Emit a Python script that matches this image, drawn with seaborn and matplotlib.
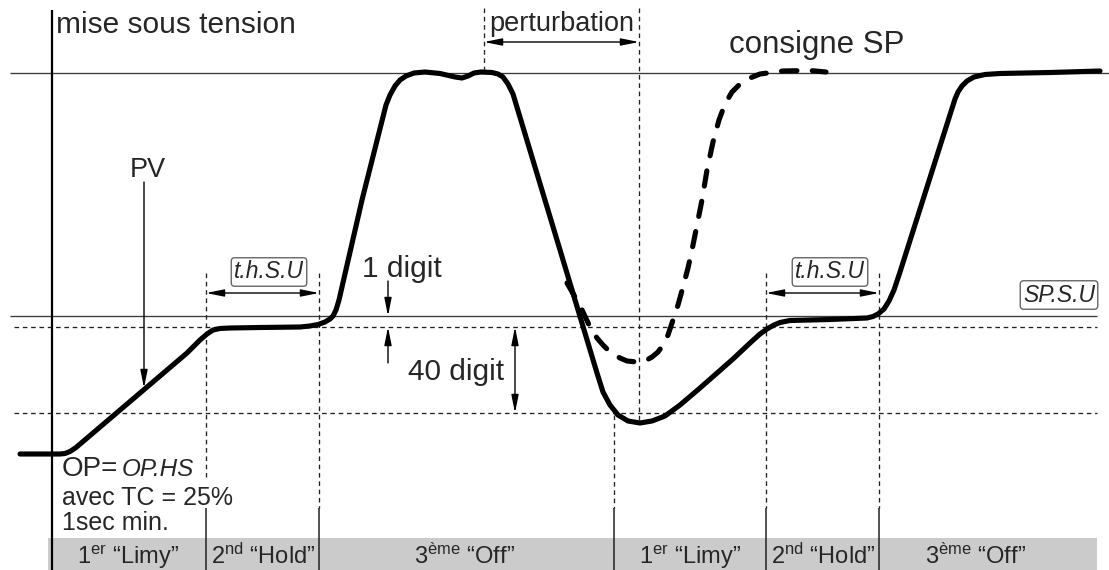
import pandas as pd
import seaborn as sns
import matplotlib.pyplot as plt

# ---- process variable (PV) trace: time vs. level (level axis points down) ----
pv_t = [20, 60, 65, 70, 76, 187, 193, 200, 207, 213, 220, 230, 260, 300, 310, 318,
        325, 330, 333, 336, 339, 362, 386, 390, 395, 400, 406, 414, 425, 440, 455,
        462, 468, 474, 481, 492, 498, 503, 508, 513, 557, 597, 603, 610, 618, 628,
        640, 652, 665, 680, 700, 733, 750, 760, 767, 774, 780, 790, 830, 867, 873,
        878, 884, 889, 894, 900, 955, 958, 962, 967, 974, 985, 1000, 1050, 1100]
pv_y = [454, 454, 453.5, 451.5, 447.5, 353, 347, 340, 334, 330, 328.5, 328, 327.5, 327, 326, 324.5,
        322, 319, 316, 310, 300, 200, 105, 95, 86, 80, 76, 73, 72, 73.5, 77,
        78, 76, 73, 72, 72.5, 74, 77, 84, 94, 240, 373, 392, 405, 415, 421,
        423, 421, 416, 405, 388, 359, 343, 334, 329, 325, 322.5, 320.5, 319.5, 318, 316.5,
        314, 309, 301, 290, 272, 99, 92, 86, 81, 77, 74.5, 73.5, 72.5, 71]

# ---- set point (SP) trace after the disturbance ----
sp_t = [567, 575, 582, 590, 597, 603, 608, 613, 620, 627, 637, 645, 652, 658, 663,
        668, 673, 678, 683, 688, 692, 697, 702, 707, 713, 719, 725, 732, 740, 750,
        760, 783, 810, 826]
sp_y = [283, 297, 310, 327, 338, 345, 350, 354, 358, 361, 362, 361, 357, 352, 345,
        335, 320, 305, 287, 268, 250, 225, 200, 170, 142, 120, 104, 92, 84, 78,
        74, 71, 70.5, 72]

# ---- reference levels ----
sp_level = 73
spsu_level = 316
band_levels = [327, 413]

# ---- phase boundaries and labels ----
phase_edges = [206, 319, 614, 766, 879]
phase_tops = [273, 273, 415, 273, 273]
phase_dash_ends = [477, 508, 508, 508, 508]
phase_centers = [128, 263, 465, 690, 823, 976]
phase_labels = [r'1$^{\mathrm{er}}$ “Limy”', r'2$^{\mathrm{nd}}$ “Hold”', r'3$^{\mathrm{ème}}$ “Off”',
                r'1$^{\mathrm{er}}$ “Limy”', r'2$^{\mathrm{nd}}$ “Hold”', r'3$^{\mathrm{ème}}$ “Off”']
perturb_edges = [484, 639]

sns.set_theme(style='white')
plt.rcParams['font.family'] = ['Liberation Sans', 'DejaVu Sans']
plt.rcParams['mathtext.fontset'] = 'custom'
plt.rcParams['mathtext.rm'] = 'Liberation Sans'
plt.rcParams['mathtext.it'] = 'Liberation Sans:italic'

fig = plt.figure(figsize=(11.09, 5.70), dpi=100)
ax = fig.add_axes([0, 0, 1, 1])

thin = dict(color='#3a3a3a', lw=0.95)
dash = (0, (3.5, 2.8))

# phase strip at the bottom
ax.fill_between([48, 1097], 538, 570, color='#cbcbcb', lw=0, zorder=0)

# reference levels
ax.hlines(sp_level, 10, 1109, **thin, zorder=1)
ax.hlines(spsu_level, 10, 1097, **thin, zorder=1)
ax.hlines(band_levels, 14, 1097, linestyles=[dash], color='#222', lw=0.95, zorder=1)

# phase boundaries: dashed above, solid through the strip
for x, top, dend in zip(phase_edges, phase_tops, phase_dash_ends):
    ax.vlines(x, top, dend, linestyles=[dash], color='#222', lw=0.95, zorder=1)
    ax.vlines(x, 508, 570, color='#222', lw=1.1, zorder=3)
ax.vlines(perturb_edges[0], 8, 73, linestyles=[dash], color='#222', lw=0.95, zorder=1)
ax.vlines(perturb_edges[1], 8, 423, linestyles=[dash], color='#222', lw=0.95, zorder=1)

# vertical time axis
ax.vlines(51.5, 10, 570, color='black', lw=1.6, zorder=3)

# curves
pv = pd.DataFrame({'t': pv_t, 'y': pv_y})
sp = pd.DataFrame({'t': sp_t, 'y': sp_y})
sns.lineplot(data=pv, x='t', y='y', ax=ax, color='black', lw=3.7, sort=False,
             estimator=None, solid_capstyle='round', solid_joinstyle='round', zorder=5)
sns.lineplot(data=sp, x='t', y='y', ax=ax, color='black', lw=3.7, sort=False,
             estimator=None, zorder=5)
sp_line = ax.lines[-1]
sp_line.set_linestyle((0, (3.0, 3.0)))
sp_line.set_dash_capstyle('round')
sp_line.set_dash_joinstyle('round')

ax.set_xlim(0, 1109)
ax.set_ylim(570, 0)
ax.axis('off')


def arrow(p0, p1, style='-|>'):
    ax.annotate('', xy=p1, xytext=p0,
                arrowprops=dict(arrowstyle=f'{style},head_length=0.9,head_width=0.18',
                                lw=1.0, color='black', shrinkA=0, shrinkB=0), zorder=4)


arrow((perturb_edges[0], 42), (perturb_edges[1], 42), '<|-|>')
arrow((206, 293), (319, 293), '<|-|>')
arrow((766, 293), (879, 293), '<|-|>')
arrow((388, 281), (388, 316))
arrow((388, 363), (388, 327))
arrow((515, 327), (515, 413), '<|-|>')
arrow((144, 182), (144, 388))

# labels
ax.text(56, 33, 'mise sous tension', fontsize=21.5, va='baseline')
ax.text(489, 31, 'perturbation', fontsize=19.5, va='baseline')
ax.text(729, 53, 'consigne SP', fontsize=22.5, va='baseline')
ax.text(130, 177, 'PV', fontsize=19.5, va='baseline')
ax.text(362, 277, '1 digit', fontsize=21.5, va='baseline')
ax.text(408, 380, '40 digit', fontsize=21.5, va='baseline')
ax.text(62, 476, 'OP=', fontsize=20, va='baseline')
ax.text(122, 476, 'OP.HS', fontsize=17.5, va='baseline', style='italic')
ax.text(62, 505, 'avec TC = 25%', fontsize=18, va='baseline')
ax.text(62, 530, '1sec min.', fontsize=18, va='baseline')

box = dict(boxstyle='round,pad=0.12,rounding_size=0.15', fc='white', ec='#666', lw=1.0)
for cx, cy, s in [(269, 272, 't.h.S.U'), (830, 272, 't.h.S.U'), (1059, 295, 'SP.S.U')]:
    ax.text(cx, cy, s, fontsize=16.5, ha='center', va='center', style='italic', bbox=box)

for cx, s in zip(phase_centers, phase_labels):
    ax.text(cx, 564, s, fontsize=17, ha='center', va='baseline', zorder=4)

fig.savefig('out.png', dpi=100)
